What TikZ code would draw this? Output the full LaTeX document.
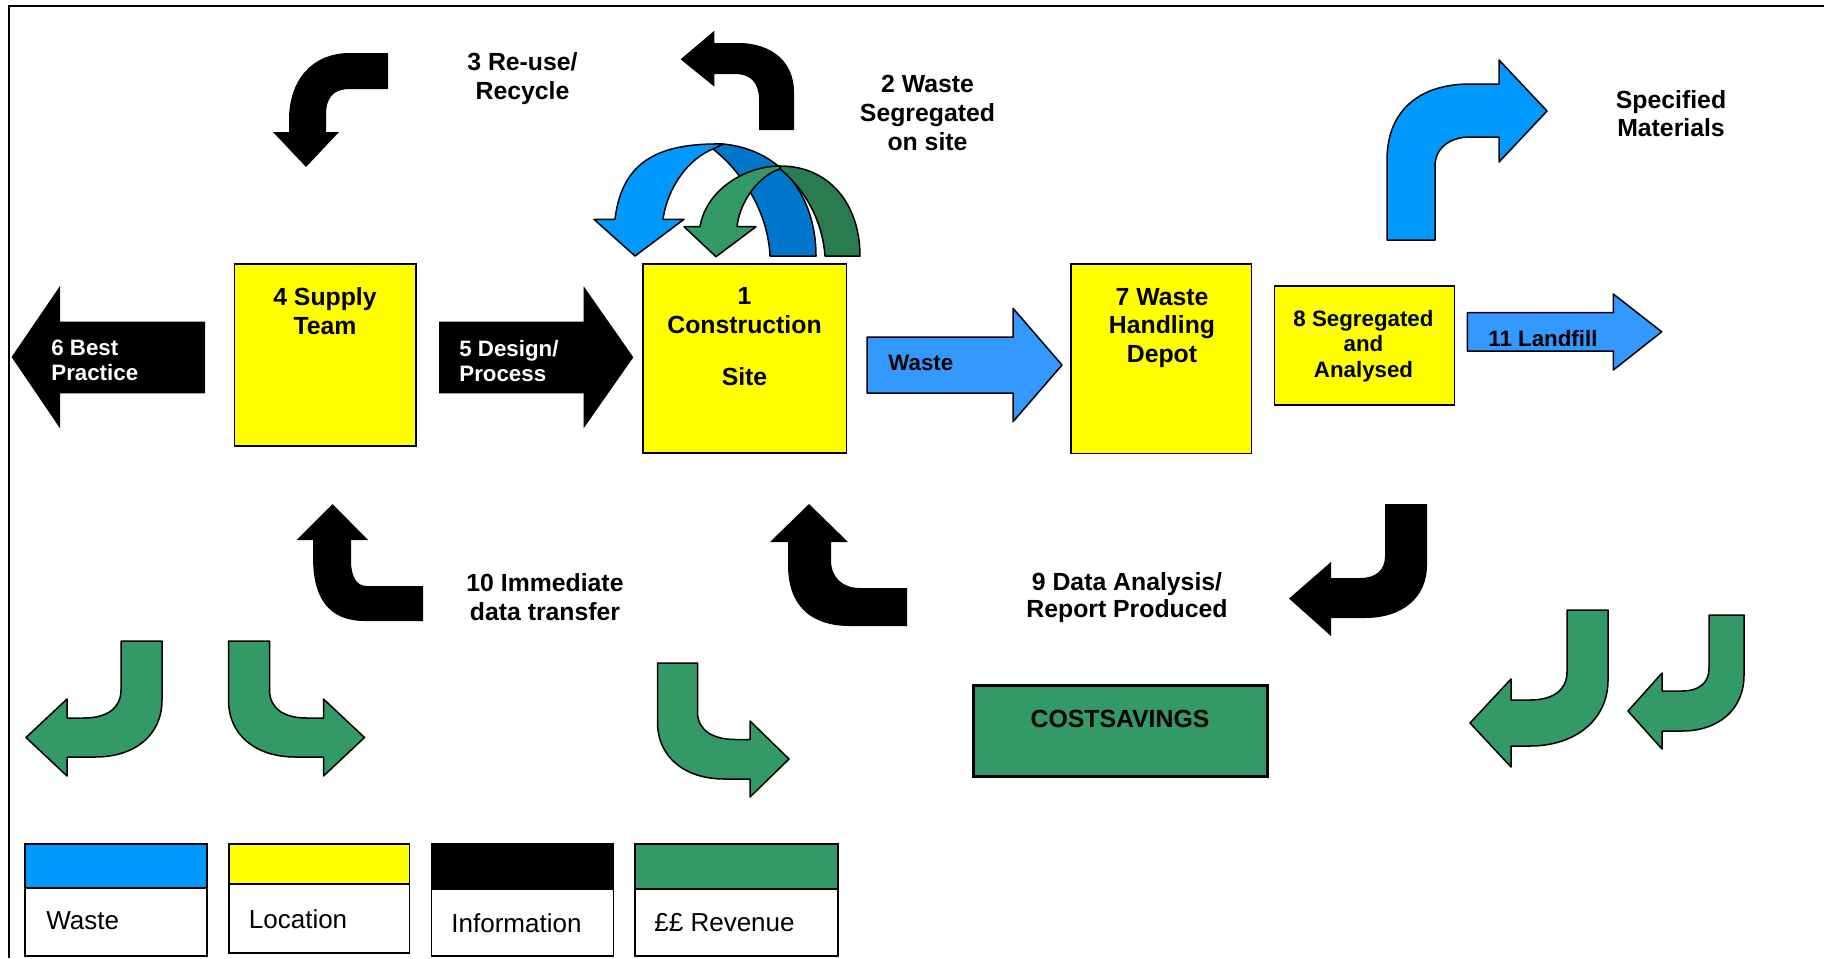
\documentclass[tikz,border=0pt]{standalone}
\usepackage{fontspec}
\setmainfont{Liberation Sans}
\usetikzlibrary{fit}
\definecolor{wasteblue}{HTML}{0099FF}
\definecolor{flowblue}{HTML}{3399FF}
\definecolor{backblue}{HTML}{0077CC}
\definecolor{locyellow}{HTML}{FFFF00}
\definecolor{revgreen}{HTML}{339966}
\definecolor{backgreen}{HTML}{2A7B52}

\begin{document}
\begin{tikzpicture}[x=0.5pt,y=-0.5pt,
  box/.style={draw=black, line width=0.75pt, fill=locyellow, inner sep=0pt},
  costbox/.style={draw=black, line width=1.5pt, fill=revgreen, inner sep=0pt},
  keyband/.style={draw=black, line width=0.75pt, inner sep=0pt},
  keytext/.style={draw=black, line width=0.75pt, fill=white, inner sep=0pt},
  outlined/.style={draw=black, line width=0.75pt, line join=round},
  infoarrow/.style={fill=black},
  biglabel/.style={font=\fontsize{12.4}{#1}\selectfont\bfseries, align=center, inner sep=0pt, anchor=north},
  smalllabel/.style={font=\fontsize{11.15}{#1}\selectfont\bfseries, align=left, inner sep=0pt, anchor=north west},
  keylabel/.style={font=\fontsize{13}{15}\selectfont, inner sep=0pt, anchor=base west}
]
\useasboundingbox (0,0) rectangle (1824,958);

% frame lines
\draw[line width=1pt] (9,958) -- (9,5.7) -- (1824,5.7);

% ---- location boxes ----
\node[box, fit={(234.7,264) (415.8,446)}] (supply) {};
\node[box, fit={(643,264) (846.5,453)}] (site) {};
\node[box, fit={(1071,264) (1251.5,453.5)}] (depot) {};
\node[box, fit={(1274.5,286) (1454.5,405)}] (segbox) {};
\node[costbox, fit={(973,685.5) (1267,776)}] (cost) {};

% ---- information arrows (black) ----
% 6 Best Practice
\path[infoarrow] (205,321.7) -- (60,321.7) -- (60,286) -- (11.6,357) -- (60,428.3) -- (60,393.3) -- (205,393.3) -- cycle;
% 5 Design / Process
\path[infoarrow] (439,321.5) -- (583.5,321.5) -- (583.5,286) -- (633.3,357.3) -- (583.5,428.5) -- (583.5,393.3) -- (439,393.3) -- cycle;
% 3 Re-use / Recycle
\path[infoarrow] (388,53) -- (350,53) .. controls (312,53) and (289,80) .. (289,120) -- (289,132) -- (273,132) -- (306,167) -- (339,132) -- (326,132) -- (326,115) .. controls (326,98) and (333,89) .. (350,89) -- (388,89) -- cycle;
% arrow leaving the site, turning left
\path[infoarrow] (759,130) -- (759,100) .. controls (759,82) and (750,74) .. (735,74) -- (714.4,74) -- (714.4,86.7) -- (680.6,59.3) -- (714.4,30.7) -- (714.4,43) -- (738,43) .. controls (772,43) and (794,62) .. (794,92) -- (794,130) -- cycle;
% 10 Immediate data transfer: two arrows up
\path[infoarrow] (313,540) -- (313,557) .. controls (313,600) and (330,621) .. (365,621) -- (423,621) -- (423,586) -- (367,586) .. controls (356,586) and (351,576) .. (351,560) -- (351,540) -- (368,540) -- (332.5,504) -- (296.5,540) -- cycle;
\path[infoarrow] (788,542) -- (788,565) .. controls (788,605) and (810,626) .. (850,626) -- (907,626) -- (907,588) -- (860,588) .. controls (843,588) and (831,578) .. (831,560) -- (831,542) -- (848,542) -- (809,504) -- (770,542) -- cycle;
% 9 Data analysis
\path[infoarrow] (1385,504) -- (1427,504) -- (1427,565) .. controls (1427,598) and (1402,618) .. (1365,618) -- (1331,618) -- (1331,636) -- (1289,598.5) -- (1331,562) -- (1331,578) -- (1360,578) .. controls (1376,578) and (1385,570) .. (1385,556) -- cycle;

% ---- waste arrows (blue) ----
\path[outlined, fill=flowblue] (867,337) -- (1013,337) -- (1013,308.3) -- (1062,365) -- (1013,421.7) -- (1013,393) -- (867,393) -- cycle;
\path[outlined, fill=flowblue] (1467.3,312.7) -- (1613.3,312.7) -- (1613.3,294) -- (1661.7,331.8) -- (1613.3,370) -- (1613.3,351) -- (1467.3,351) -- cycle;
\path[outlined, fill=wasteblue] (1387,240) -- (1387,160) .. controls (1387,110) and (1420,84) .. (1470,84) -- (1499,84) -- (1499,60) -- (1547,111) -- (1499,162) -- (1499,137) -- (1470,137) .. controls (1450,137) and (1435,148) .. (1435,166) -- (1435,240) -- cycle;

% ---- segregation loops above the site ----
\path[outlined, fill=backblue] (713,149) .. controls (740,170) and (768,210) .. (770,256) -- (816,256) .. controls (816,200) and (785,150) .. (723,144) -- cycle;
\path[outlined, fill=wasteblue] (723,144) .. controls (660,143) and (622,160) .. (615,219.3) -- (594,219.3) -- (635,256) -- (684,219.3) -- (663,219.3) .. controls (668,185) and (690,158) .. (713,149) -- cycle;
\path[outlined, fill=backgreen] (780,169) .. controls (800,185) and (822,215) .. (825,256) -- (860,256) .. controls (860,205) and (830,166) .. (780,166) -- cycle;
\path[outlined, fill=revgreen] (780,166) .. controls (745,166) and (706,190) .. (700,226.7) -- (684,226.7) -- (716,256.7) -- (756,226.7) -- (737,226.7) .. controls (740,200) and (760,175) .. (780,169) -- cycle;

% ---- revenue arrows (green) ----
\path[outlined, fill=revgreen] (121,641) -- (162,641) -- (162,700) .. controls (162,735) and (135,757) .. (95,757) -- (67,757) -- (67,776) -- (26,737.5) -- (67,699) -- (67,718) -- (84,718) .. controls (107,718) and (121,708) .. (121,690) -- cycle;
\path[outlined, fill=revgreen] (269.5,641) -- (228.5,641) -- (228.5,700) .. controls (228.5,735) and (255.5,757) .. (295.5,757) -- (323.5,757) -- (323.5,776) -- (364.5,737.5) -- (323.5,699) -- (323.5,718) -- (306.5,718) .. controls (283.5,718) and (269.5,708) .. (269.5,690) -- cycle;
\path[outlined, fill=revgreen] (697.5,663) -- (657.5,663) -- (657.5,722) .. controls (657.5,757) and (684.5,779) .. (724.5,779) -- (750,779) -- (750,797) -- (789,759) -- (750,721) -- (750,739.5) -- (735.5,739.5) .. controls (712.5,739.5) and (697.5,730) .. (697.5,712) -- cycle;
\path[outlined, fill=revgreen] (1567,610) -- (1608,610) -- (1608,680) .. controls (1608,720) and (1575,746) .. (1530,746) -- (1511,746) -- (1511,767) -- (1470,723) -- (1511,679) -- (1511,700) -- (1530,700) .. controls (1553,700) and (1567,690) .. (1567,672) -- cycle;
\path[outlined, fill=revgreen] (1709,615) -- (1744,615) -- (1744,675) .. controls (1744,710) and (1718,731) .. (1682,731) -- (1662,731) -- (1662,749) -- (1628,711) -- (1662,673) -- (1662,691) -- (1682,691) .. controls (1699,691) and (1709,683) .. (1709,668) -- cycle;

% ---- labels ----
\node[biglabel=14.65pt] (reuse) at (522.5,52) {3 Re-use/\\Recycle};
\node[biglabel=14.5pt] (segsite) at (927.5,75) {2 Waste\\Segregated\\on site};
\node[biglabel=14pt] (spec) at (1671,90.5) {Specified\\Materials};
\node[biglabel=14.65pt] (supplytxt) at (325,287) {4 Supply\\Team};
\node[biglabel=14.15pt] (sitetxt) at (744.5,287.5) {1\\Construction\\[12pt]Site};
\node[biglabel=14.15pt] (depottxt) at (1162,288) {7 Waste\\Handling\\Depot};
\node[biglabel=12.9pt, font=\fontsize{11.15}{12.9}\selectfont\bfseries] (segtxt) at (1363.5,309.5) {8 Segregated\\and\\Analysed};
\node[smalllabel=12.5pt, text=white] (design) at (459,340) {5 Design/\\Process};
\node[smalllabel=12.5pt, text=white] (best) at (51,340) {6 Best\\Practice};
\node[font=\fontsize{11.15}{13}\selectfont\bfseries, inner sep=0pt, anchor=base west] (wastetxt) at (888,370) {Waste};
\node[font=\fontsize{11.15}{13}\selectfont\bfseries, inner sep=0pt, anchor=base west] (landfill) at (1488,346) {11 Landfill};
\node[biglabel=14.65pt] (immediate) at (545,573) {10 Immediate\\data transfer};
\node[biglabel=13.65pt] (analysis) at (1127,572.2) {9 Data Analysis/\\Report Produced};
\node[font=\fontsize{12.4}{14}\selectfont\bfseries, inner sep=0pt, anchor=base] (costtxt) at (1120,727.3) {COSTSAVINGS};

% ---- key ----
\node[keyband, fill=wasteblue, fit={(25,844) (207,888)}] (keyw) {};
\node[keytext, fit={(25,888) (207,956)}] (keywt) {};
\node[keyband, fill=locyellow, fit={(229,844) (409.5,884)}] (keyl) {};
\node[keytext, fit={(229,884) (409.5,953)}] (keylt) {};
\node[keyband, fill=black, fit={(431.5,844) (613.5,889)}] (keyi) {};
\node[keytext, fit={(431.5,889) (613.5,956)}] (keyit) {};
\node[keyband, fill=revgreen, fit={(635,844) (838,889)}] (keyr) {};
\node[keytext, fit={(635,889) (838,956)}] (keyrt) {};
\node[keylabel] (keywl) at (46,929) {Waste};
\node[keylabel] (keyll) at (248.5,928) {Location};
\node[keylabel] (keyil) at (451,932.5) {Information};
\node[keylabel] (keyrl) at (654,931.5) {££ Revenue};
\end{tikzpicture}
\end{document}
